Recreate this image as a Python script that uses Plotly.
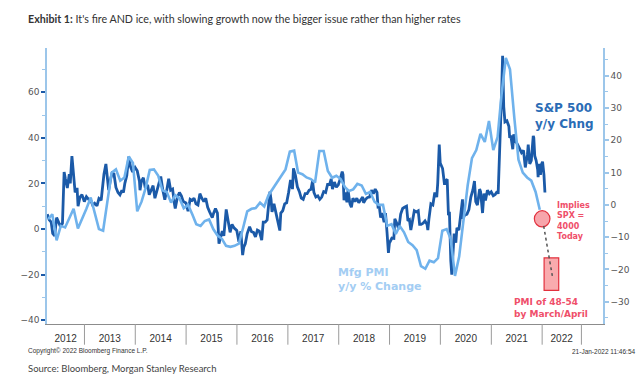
import pandas as pd
import plotly.graph_objects as go

# ---------------- data ----------------
spx_dates = [
    "2012-04-09","2012-04-23","2012-05-07","2012-05-18","2012-06-01","2012-06-15","2012-06-29","2012-07-13","2012-07-27",
    "2012-08-08","2012-08-17","2012-08-31","2012-09-14","2012-09-21","2012-10-03","2012-10-12","2012-10-26","2012-11-09",
    "2012-11-16","2012-11-30","2012-12-14","2012-12-31",
    "2013-01-15","2013-01-31","2013-02-15","2013-03-01","2013-03-15","2013-04-01","2013-04-15","2013-05-01","2013-05-21",
    "2013-06-04","2013-06-14","2013-06-24","2013-07-08","2013-07-19","2013-08-01","2013-08-15","2013-08-30","2013-09-13",
    "2013-09-27","2013-10-08","2013-10-18","2013-11-01","2013-11-15","2013-11-29","2013-12-13","2013-12-31",
    "2014-01-15","2014-01-31","2014-02-04","2014-02-14","2014-02-28","2014-03-14","2014-03-31","2014-04-11","2014-04-25",
    "2014-05-09","2014-05-22","2014-06-06","2014-06-20","2014-07-03","2014-07-18","2014-08-01","2014-08-15","2014-08-29",
    "2014-09-12","2014-09-26","2014-10-09","2014-10-15","2014-10-31","2014-11-14","2014-11-28","2014-12-12","2014-12-31",
    "2015-01-15","2015-01-30","2015-02-13","2015-02-27","2015-03-13","2015-03-27","2015-04-10","2015-04-24","2015-05-08",
    "2015-05-22","2015-06-05","2015-06-19","2015-07-08","2015-07-17","2015-07-31","2015-08-14","2015-08-25","2015-09-04",
    "2015-09-18","2015-09-29","2015-10-09","2015-10-16","2015-10-30","2015-11-13","2015-11-27","2015-12-11","2015-12-31",
    "2016-01-15","2016-01-29","2016-02-11","2016-02-19","2016-03-01","2016-03-15","2016-04-01","2016-04-15","2016-04-29",
    "2016-05-13","2016-05-27","2016-06-10","2016-06-27","2016-07-08","2016-07-22","2016-08-05","2016-08-25","2016-09-02",
    "2016-09-09","2016-09-23","2016-10-07","2016-10-21","2016-11-04","2016-11-11","2016-11-25","2016-12-09","2016-12-23",
    "2017-01-06","2017-01-20","2017-02-03","2017-02-10","2017-02-24","2017-03-10","2017-03-24","2017-04-07","2017-04-21",
    "2017-05-05","2017-05-19","2017-06-02","2017-06-16","2017-06-27","2017-07-07","2017-07-21","2017-08-04","2017-08-18",
    "2017-09-01","2017-09-15","2017-09-29","2017-10-13","2017-10-27","2017-11-08","2017-11-17","2017-12-01","2017-12-15",
    "2017-12-29",
    "2018-01-12","2018-01-26","2018-02-01","2018-02-08","2018-02-16","2018-03-01","2018-03-09","2018-03-23","2018-04-02",
    "2018-04-13","2018-04-27","2018-05-11","2018-05-25","2018-06-08","2018-06-22","2018-06-29","2018-07-13","2018-07-27",
    "2018-08-10","2018-08-24","2018-09-07","2018-09-20","2018-10-03","2018-10-11","2018-10-19","2018-10-29","2018-11-08",
    "2018-11-23","2018-12-03","2018-12-14","2018-12-24","2018-12-31",
    "2019-01-04","2019-01-18","2019-02-01","2019-02-08","2019-02-22","2019-03-08","2019-03-22","2019-04-05","2019-04-18",
    "2019-05-03","2019-05-13","2019-05-24","2019-06-03","2019-06-14","2019-06-28","2019-07-12","2019-07-26","2019-08-05",
    "2019-08-16","2019-08-30","2019-09-13","2019-09-27","2019-10-03","2019-10-11","2019-10-25","2019-11-08","2019-11-22",
    "2019-12-06","2019-12-13","2019-12-24","2019-12-31",
    "2020-01-10","2020-01-17","2020-01-31","2020-02-07","2020-02-19","2020-02-28","2020-03-06","2020-03-12","2020-03-16",
    "2020-03-23","2020-03-31","2020-04-09","2020-04-21","2020-04-29","2020-05-13","2020-05-27","2020-06-08","2020-06-11",
    "2020-06-23","2020-07-10","2020-07-24","2020-08-07","2020-08-21","2020-09-02","2020-09-11","2020-09-23","2020-10-09",
    "2020-10-16","2020-10-30","2020-11-09","2020-11-20","2020-12-04","2020-12-18","2020-12-31",
    "2021-01-15","2021-01-29","2021-02-12","2021-02-19","2021-02-26","2021-03-05","2021-03-12","2021-03-16","2021-03-23",
    "2021-03-31","2021-04-09","2021-04-23","2021-05-07","2021-05-13","2021-05-21","2021-06-04","2021-06-11","2021-06-25",
    "2021-07-09","2021-07-23","2021-08-06","2021-08-20","2021-09-02","2021-09-17","2021-09-23","2021-10-04","2021-10-15",
    "2021-10-29","2021-11-02","2021-11-09","2021-11-19","2021-11-30","2021-12-03","2021-12-10","2021-12-20","2021-12-27",
    "2022-01-04","2022-01-14","2022-01-18","2022-01-21",
]
spx_yoy = [
    6.5, 4.0, 3.0, -2.0, -3.0, 5.0, 3.0, 1.0, 2.5,
    25.0, 22.0, 18.0, 24.0, 20.0, 32.0, 24.0, 16.0, 18.0,
    10.0, 14.0, 15.0, 12.0,
    14.2, 13.0, 12.6, 10.5, 11.3, 10.1, 13.4, 12.6, 24.0,
    28.5, 23.0, 17.0, 22.0, 24.5, 24.1, 18.2, 16.0, 15.0,
    17.0, 16.0, 20.0, 23.5, 31.7, 27.0, 25.0, 27.0,
    25.5, 21.0, 17.0, 21.0, 22.5, 18.0, 19.3, 15.0, 17.0,
    19.0, 13.5, 17.0, 20.0, 23.0, 17.0, 12.8, 17.0, 22.0,
    17.0, 17.5, 11.0, 9.0, 14.0, 16.0, 14.5, 12.0, 11.4,
    7.8, 13.0, 12.5, 13.5, 11.0, 10.5, 15.5, 13.5, 12.0,
    13.5, 9.5, 7.5, 5.0, 6.8, 9.0, 7.0, -6.5, -4.0,
    -1.0, -3.0, 4.0, 8.6, 3.5, -1.5, 2.0, 0.5, -0.7,
    -5.6, -1.0, -11.5, -8.0, -6.5, -2.0, 1.0, -1.2, -1.5,
    -3.5, -0.5, -1.0, -4.9, 3.0, 3.0, 4.0, 16.4, 13.0,
    7.5, 11.0, 7.0, 4.0, -0.7, 7.0, 8.0, 11.0, 11.5,
    16.0, 21.5, 17.5, 26.6, 23.5, 18.5, 16.5, 13.5, 13.0,
    15.5, 15.5, 17.0, 17.4, 21.0, 16.0, 14.0, 14.5, 13.0,
    14.0, 16.4, 16.0, 19.5, 19.5, 22.0, 17.5, 20.6, 18.3,
    19.4,
    22.0, 25.2, 23.8, 12.6, 16.0, 11.7, 17.0, 11.0, 9.5,
    13.5, 12.0, 13.5, 11.5, 12.5, 14.0, 11.5, 13.0, 13.8,
    14.0, 17.0, 15.5, 17.5, 16.0, 9.0, 10.0, 5.0, 7.0,
    3.0, 7.0, -1.5, -10.5, -6.2,
    -5.5, -4.0, -4.1, 4.5, 2.5, 0.0, 6.5, 9.0, 9.5,
    10.0, 3.5, 4.0, -0.5, 3.8, 8.0, 7.5, 8.0, 2.0,
    2.0, 2.5, 3.5, 2.0, -0.5, 4.5, 11.0, 10.5, 16.0,
    14.0, 20.0, 37.0, 28.9,
    27.5, 26.5, 19.4, 21.0, 21.8, 6.0, 7.5, -9.5, -14.0,
    -20.1, -8.8, -2.0, -6.0, 0.5, -0.5, 8.0, 13.0, 4.5,
    6.0, 6.5, 8.5, 14.0, 17.0, 21.0, 12.0, 10.5, 17.5,
    16.3, 7.0, 15.5, 12.5, 17.0, 15.5, 16.3,
    14.6, 15.1, 16.5, 15.4, 28.0, 32.0, 45.0, 60.0, 76.0,
    53.7, 47.0, 47.5, 45.0, 40.0, 41.0, 35.0, 41.5, 38.5,
    37.0, 35.0, 33.5, 34.5, 27.0, 32.5, 37.0, 28.5, 30.0,
    40.8, 40.0, 32.0, 30.0, 26.0, 22.7, 28.6, 23.7, 28.3,
    29.5, 23.7, 20.5, 16.0,
]

pmi_months = pd.date_range("2012-04-01", "2021-12-01", freq="MS") + pd.Timedelta(days=14)
pmi_yoy = [
    -4.4, -2.9, -11.0, -6.5, -7.0, -4.0, -1.2, -7.3, -4.4,
    -1.2, 2.3, -2.4, -7.5, -8.0, 1.0, 10.0, 11.0, 7.5, 8.5, 15.0, 13.0,
    -2.0, 1.0, 5.0, 10.8, 11.0, 9.0, 4.5, 4.0, 0.7, 3.0, 2.0, -1.0,
    0.0, -3.0, -6.0, -6.5, -5.0, -4.5, -7.5, -9.5, -10.5, -12.7, -13.0, -12.7,
    -12.0, -7.0, -2.0, -1.2, -1.0, 0.7, -0.5, 3.0, 5.0, 7.0, 9.0, 11.0,
    16.5, 16.8, 10.0, 9.5, 8.5, 8.0, 6.9, 16.7, 16.7, 10.5, 8.4, 9.0,
    8.0, 5.5, 4.3, 4.8, 6.5, 6.0, 3.4, 4.0, 1.0, 0.0, 0.0, -6.5,
    -6.0, -9.0, -6.5, -8.5, -11.5, -12.5, -14.0, -19.0, -19.8, -17.3, -17.8, -16.5,
    -8.0, -7.5, -10.5, -22.0, -16.0, -5.0, 6.0, 14.5, 17.0, 22.0, 19.5, 26.0,
    17.0, 21.0, 34.0, 45.5, 42.0, 27.0, 14.0, 10.0, 8.5, 7.5, 4.0, -1.5,
]

year_labels = ["2012", "2013", "2014", "2015", "2016", "2017", "2018", "2019", "2020", "2021", "2022"]
year_label_pos = ["2012-08-19", "2013-07-02", "2014-07-02", "2015-07-02", "2016-07-02", "2017-07-02",
                  "2018-07-02", "2019-07-02", "2020-07-02", "2021-07-02", "2022-05-21"]
year_bounds = ["2013-01-01", "2014-01-01", "2015-01-01", "2016-01-01", "2017-01-01", "2018-01-01",
               "2019-01-01", "2020-01-01", "2021-01-01", "2022-01-01", "2022-10-10"]

DARK = "#1b5aa8"
LIGHT = "#6fb2ec"
PINK = "#ef4f6a"
AXBLUE = "#9cc6ea"

fig = go.Figure()
fig.add_trace(go.Scatter(x=pd.to_datetime(spx_dates), y=spx_yoy, mode="lines",
                         line=dict(color=DARK, width=2.8), name="S&P 500 y/y", yaxis="y"))
fig.add_trace(go.Scatter(x=pmi_months, y=pmi_yoy, mode="lines",
                         line=dict(color=LIGHT, width=2.6), name="Mfg PMI y/y", yaxis="y2"))

shapes = []
for d in year_bounds:
    shapes.append(dict(type="line", xref="x", yref="paper", x0=d, x1=d, y0=0, y1=-0.075,
                       line=dict(color="#9a9a9a", width=1)))
# implied-point circle, dotted path and target box
shapes.append(dict(type="circle", xref="x", yref="y2", x0="2021-11-06", x1="2022-02-26", y0=-6.8, y1=-1.8,
                   fillcolor="rgba(242,105,115,0.6)", line=dict(color="#e2303d", width=1.2), layer="above"))
shapes.append(dict(type="line", xref="x", yref="y2", x0="2022-01-12", y0=-6.5, x1="2022-03-15", y1=-22,
                   line=dict(color="#555555", width=1.5, dash="dot"), layer="above"))
shapes.append(dict(type="rect", xref="x", yref="y2", x0="2022-01-15", x1="2022-04-30", y0=-26.5, y1=-16.4,
                   fillcolor="rgba(246,135,140,0.7)", line=dict(color="#e2303d", width=1.2), layer="below"))

def px_x(p):
    return (p - 38) / 565.0

def px_y(p):
    return (324 - p) / 276.0

ann = [
    dict(x=px_x(17), y=px_y(19), xref="paper", yref="paper", xanchor="left", yanchor="middle", showarrow=False,
         text="<b>Exhibit 1:</b> It's fire AND ice, with slowing growth now the bigger issue rather than higher rates",
         font=dict(family="Lato, Open Sans, sans-serif", size=10.7, color="#333333")),
    dict(x=px_x(532), y=px_y(99), xref="paper", yref="paper", xanchor="left", yanchor="top", showarrow=False,
         align="left", text="<b>S&P 500<br>y/y Chng</b>",
         font=dict(family="DejaVu Sans", size=12, color="#2a6cb6")),
    dict(x=px_x(332), y=px_y(264), xref="paper", yref="paper", xanchor="left", yanchor="top", showarrow=False,
         align="left", text="<b>Mfg PMI<br>y/y % Change</b>",
         font=dict(family="DejaVu Sans", size=11, color="#a3cdf3")),
    dict(x=px_x(554), y=px_y(199), xref="paper", yref="paper", xanchor="left", yanchor="top", showarrow=False,
         align="left", text="<b>Implies<br>SPX =<br>4000<br>Today</b>",
         font=dict(family="DejaVu Sans", size=8, color=PINK)),
    dict(x=px_x(511), y=px_y(295), xref="paper", yref="paper", xanchor="left", yanchor="top", showarrow=False,
         align="left", text="<b>PMI of 48-54<br>by March/April</b>",
         font=dict(family="DejaVu Sans", size=9, color=PINK)),
    dict(x=px_x(17), y=px_y(351), xref="paper", yref="paper", xanchor="left", yanchor="middle", showarrow=False,
         text="Copyright\u00a9 2022 Bloomberg Finance L.P.",
         font=dict(family="Liberation Sans", size=6.5, color="#333333")),
    dict(x=px_x(639), y=px_y(351), xref="paper", yref="paper", xanchor="right", yanchor="middle", showarrow=False,
         text="21-Jan-2022 11:46:54",
         font=dict(family="Liberation Sans", size=6.5, color="#333333")),
    dict(x=px_x(17), y=px_y(368), xref="paper", yref="paper", xanchor="left", yanchor="middle", showarrow=False,
         text="Source: Bloomberg, Morgan Stanley Research",
         font=dict(family="Lato, Open Sans, sans-serif", size=9.5, color="#444444")),
]

# the page body adds an 8px offset; compensate so the plot lands where it does in the reference
OFF = 8
fig.update_layout(
    width=644 - OFF, height=387 - OFF,
    margin=dict(l=38 - OFF, r=41, t=48 - OFF, b=63),
    paper_bgcolor="white", plot_bgcolor="white",
    showlegend=False,
    shapes=shapes,
    annotations=ann,
    xaxis=dict(type="date", range=["2012-04-07", "2023-03-14"], showgrid=False, zeroline=False,
               showline=True, linecolor="#8c8c8c", linewidth=1,
               tickmode="array", tickvals=year_label_pos, ticktext=year_labels, ticks="",
               ticklabelstandoff=5,
               tickfont=dict(family="Liberation Sans", size=10, color="#333333")),
    yaxis=dict(range=[-41.7, 79.4], showgrid=False, zeroline=False, showline=True, linecolor=AXBLUE,
               linewidth=1.5, tickmode="array", tickvals=[-40, -20, 0, 20, 40, 60],
               ticks="outside", ticklen=4, tickwidth=2, tickcolor=DARK,
               minor=dict(tickmode="array", tickvals=[-30, -10, 10, 30, 50, 70], ticks="outside",
                          ticklen=3, tickwidth=1, tickcolor=AXBLUE),
               tickfont=dict(family="DejaVu Sans", size=9, color="#555555")),
    yaxis2=dict(range=[-36.9, 48.6], overlaying="y", side="right", anchor="x", showgrid=False, zeroline=False,
                showline=True, linecolor=AXBLUE, linewidth=1.5,
                tickmode="array", tickvals=[-30, -20, -10, 0, 10, 20, 30, 40],
                ticks="outside", ticklen=4, tickwidth=1.5, tickcolor=AXBLUE,
                minor=dict(tickmode="array", tickvals=[-35, -25, -15, -5, 5, 15, 25, 35, 45], ticks="outside",
                           ticklen=3, tickwidth=1, tickcolor=AXBLUE),
                tickfont=dict(family="DejaVu Sans", size=9, color="#555555")),
)

fig.write_html("out.html")
